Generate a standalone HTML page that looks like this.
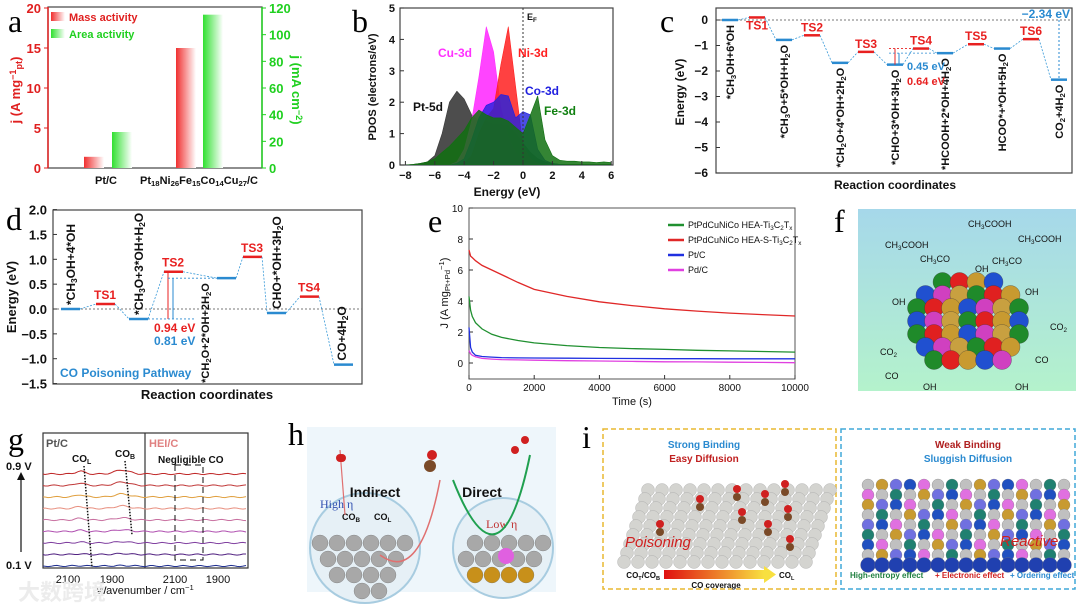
<!DOCTYPE html>
<html><head><meta charset="utf-8"><style>
html,body{margin:0;padding:0;background:#fff;width:1080px;height:607px;overflow:hidden}
svg{display:block;font-family:"Liberation Sans","Noto Sans CJK SC",sans-serif}
.L{font-family:"Liberation Serif",serif;font-size:32px}
</style></head><body>
<svg id="s" width="1080" height="607" viewBox="0 0 1080 607" xmlns="http://www.w3.org/2000/svg">
<defs>
<linearGradient id="gr" x1="0" x2="1"><stop offset="0" stop-color="#f03030"/><stop offset="1" stop-color="#fff"/></linearGradient>
<linearGradient id="gg" x1="0" x2="1"><stop offset="0" stop-color="#30e030"/><stop offset="1" stop-color="#fff"/></linearGradient>
<linearGradient id="gf" x1="0" y1="0" x2="0" y2="1"><stop offset="0" stop-color="#a6d8ea"/><stop offset="1" stop-color="#b4f2cc"/></linearGradient>
<linearGradient id="gco" x1="0" x2="1"><stop offset="0" stop-color="#e01010"/><stop offset="1" stop-color="#f8e040"/></linearGradient>
</defs>
<text class="L" x="8" y="32">a</text>
<text class="L" x="352" y="32">b</text>
<text class="L" x="660" y="32">c</text>
<text class="L" x="6" y="230">d</text>
<text class="L" x="428" y="232">e</text>
<text class="L" x="834" y="232">f</text>
<text class="L" x="8" y="450">g</text>
<text class="L" x="288" y="445">h</text>
<text class="L" x="582" y="448">i</text>
<g id="root"></g>
</svg>
<script>
const aCats=["Pt/C","HEA"];
const aMass=[1.4,15];
const aArea=[27,115];
const aLeftTicks=[0,5,10,15,20];
const aRightTicks=[0,20,40,60,80,100,120];
const bE=[-8,-7.5,-7,-6.5,-6,-5.5,-5,-4.5,-4,-3.5,-3,-2.5,-2,-1.5,-1,-0.5,0,0.5,1,1.5,2,2.5,3,3.5,4,4.5,5,5.5,6];
const bPt=[0,0.02,0.05,0.1,0.3,1.0,2.0,2.35,2.1,1.6,1.4,1.4,1.3,1.3,1.25,1.0,0.7,0.4,0.2,0.1,0.05,0.02,0.02,0.02,0.02,0.02,0.02,0.02,0.02];
const bCu=[0,0,0,0,0,0,0,0.1,0.5,1.4,2.8,4.4,3.6,1.8,0.9,0.4,0.15,0.05,0,0,0,0,0,0,0,0,0,0,0];
const bNi=[0,0,0,0,0,0,0,0,0.05,0.3,1.0,1.5,1.8,3.2,4.4,2.5,0.6,0.2,0.05,0,0,0,0,0,0,0,0,0,0];
const bCo=[0,0,0,0,0,0,0,0.05,0.2,0.8,1.5,1.9,2.0,2.25,2.2,1.5,1.7,1.6,0.5,0.15,0.05,0.02,0,0,0,0,0,0,0];
const bFe=[0,0.02,0.05,0.1,0.2,0.4,0.6,0.85,1.1,1.5,1.75,1.6,1.5,1.5,1.4,1.2,1.0,1.6,2.2,0.8,0.3,0.15,0.12,0.12,0.1,0.1,0.08,0.1,0.08];
const bXTicks=[-8,-6,-4,-2,0,2,4,6];
const bYTicks=[0,1,2,3,4,5];
const cLevels=[0,0.1,-0.78,-0.6,-1.68,-1.25,-1.75,-1.12,-1.3,-0.95,-1.12,-0.75,-2.34];
const cIsTS=[0,1,0,1,0,1,0,1,0,1,0,1,0];
const cNames=["*CH3OH+6*OH","TS1","*CH3O+5*OH+H2O","TS2","*CH2O+4*OH+2H2O","TS3","*CHO+3*OH+3H2O","TS4","*HCOOH+2*OH+4H2O","TS5","HCOO*+*OH+5H2O","TS6","CO2+4H2O"];
const cYTicks=[0,-1,-2,-3,-4,-5,-6];
const dLevels=[0,0.1,-0.2,0.75,0.62,1.05,-0.08,0.25,-1.12];
const dIsTS=[0,1,0,1,0,1,0,1,0];
const dNames=["*CH3OH+4*OH","TS1","*CH3O+3*OH+H2O","TS2","*CH2O+2*OH+2H2O","TS3","CHO+*OH+3H2O","TS4","CO+4H2O"];
const dYTicks=[2.0,1.5,1.0,0.5,0.0,-0.5,-1.0,-1.5];
const eT=[0,50,100,200,400,700,1000,1500,2000,3000,4000,5000,6000,7000,8000,9000,10000];
const eRed=[7.3,6.9,6.8,6.6,6.3,6.0,5.7,5.2,4.75,4.3,3.95,3.7,3.5,3.35,3.22,3.12,3.03];
const eGreen=[4.3,3.4,3.0,2.6,2.2,1.85,1.65,1.45,1.3,1.12,1.0,0.93,0.88,0.82,0.78,0.74,0.7];
const eBlue=[2.3,1.0,0.7,0.5,0.42,0.38,0.35,0.33,0.32,0.31,0.3,0.29,0.28,0.28,0.27,0.27,0.27];
const ePink=[0.8,0.6,0.5,0.4,0.3,0.25,0.22,0.2,0.18,0.15,0.13,0.1,0.08,0.07,0.05,0.04,0.02];
const eXTicks=[0,2000,4000,6000,8000,10000];
const eYTicks=[0,2,4,6,8,10];

const NS="http://www.w3.org/2000/svg";
const root=document.getElementById('root');
function mk(tag,attrs,parent){const e=document.createElementNS(NS,tag);for(const k in attrs)e.setAttribute(k,attrs[k]);(parent||root).appendChild(e);return e;}
function T(x,y,str,o){o=o||{};const e=mk('text',{x:x,y:y,'font-size':o.fs||11,fill:o.fill||'#111','text-anchor':o.anchor||'start','font-weight':o.bold===false?'normal':'bold'});if(o.rot)e.setAttribute('transform','rotate('+o.rot+' '+x+' '+y+')');if(o.family)e.setAttribute('font-family',o.family);
 const parts=str.split(/(\{[^}]*\}|\^[^^]*\^)/);
 parts.forEach(p=>{if(!p)return;const ts=document.createElementNS(NS,'tspan');if(p[0]=='{'){ts.textContent=p.slice(1,-1);ts.setAttribute('font-size',(o.fs||11)*0.7);ts.setAttribute('dy',2);e.appendChild(ts);const r=document.createElementNS(NS,'tspan');r.setAttribute('dy',-2);r.textContent='\u200b';e.appendChild(r);}else if(p[0]=='^'){ts.textContent=p.slice(1,-1);ts.setAttribute('font-size',(o.fs||11)*0.7);ts.setAttribute('dy',-4);e.appendChild(ts);const r=document.createElementNS(NS,'tspan');r.setAttribute('dy',4);r.textContent='\u200b';e.appendChild(r);}else{ts.textContent=p;e.appendChild(ts);}});
 return e;}
function subify(s){return s.replace(/([A-Za-z\)])(\d+)/g,'$1{$2}');}
function L(x1,y1,x2,y2,c,w,dash){const e=mk('line',{x1:x1,y1:y1,x2:x2,y2:y2,stroke:c||'#333','stroke-width':w||1});if(dash)e.setAttribute('stroke-dasharray',dash);return e;}

// panel a
const ya=v=>168-v*8, yaR=v=>168-v*160/120;
const aMassX=[84,176], aAreaX=[112,203];
let el=mk('rect',{x:48,y:7,width:214,height:161,fill:'none',stroke:'#444','stroke-width':1.2});


L(48,7,48,168,'#e02020',1.5);L(262,7,262,168,'#20d020',1.5);
aLeftTicks.forEach(v=>{L(44,ya(v),48,ya(v),'#e02020',1);const t=T(41,ya(v)+5,String(v),{fs:13,fill:'#e02020',anchor:'end'});});
aRightTicks.forEach(v=>{L(262,yaR(v),266,yaR(v),'#20d020',1);const t=T(269,yaR(v)+5,String(v),{fs:13,fill:'#20d020'});});
aCats.forEach((c,i)=>{
 const r=mk('rect',{x:aMassX[i],y:ya(aMass[i]),width:20,height:ya(0)-ya(aMass[i]),fill:'url(#gr)'});
 
 
 const g=mk('rect',{x:aAreaX[i],y:yaR(aArea[i]),width:20,height:yaR(0)-yaR(aArea[i]),fill:'url(#gg)'});
 
 
});
T(106,184,'Pt/C',{fs:11,anchor:'middle'});
T(199,184,'Pt{18}Ni{26}Fe{15}Co{14}Cu{27}/C',{fs:11,anchor:'middle'});
mk('rect',{x:51,y:12,width:14,height:9,fill:'url(#gr)'});mk('rect',{x:51,y:29,width:14,height:9,fill:'url(#gg)'});
el=T(69,21,'Mass activity',{fs:11,fill:'#e02020'});
el=T(69,38,'Area activity',{fs:11,fill:'#20d020'});
T(20,90,'j (A mg^−1^{pt})',{fs:13,fill:'#e02020',rot:-90,anchor:'middle'});
T(292,90,'j (mA cm^−2^)',{fs:13,fill:'#20d020',rot:90,anchor:'middle'});

// panel b
const xb=e=>523+e*14.7, yb=v=>165-v*31.4;
mk('rect',{x:400,y:8,width:213,height:157,fill:'none',stroke:'#444','stroke-width':1.2});
function area(vals,fill,op,name){let d='M'+xb(bE[0])+','+yb(0);bE.forEach((e,i)=>{d+=' L'+xb(e).toFixed(1)+','+yb(vals[i]).toFixed(1);});d+=' L'+xb(bE[bE.length-1])+','+yb(0)+'Z';const p=mk('path',{d:d,fill:fill,'fill-opacity':op,stroke:fill,'stroke-width':0.6,'stroke-linejoin':'round'});
 
 }
area(bPt,'#3a3a3a',0.9,'pdos-pt-5d');
area(bCu,'#ff30ff',0.9,'pdos-cu-3d');
area(bNi,'#ff2020',0.85,'pdos-ni-3d');
area(bCo,'#2020e0',0.8,'pdos-co-3d');
area(bFe,'#107010',0.85,'pdos-fe-3d');
L(xb(0),8,xb(0),165,'#333',1,'2,2');
bXTicks.forEach(v=>{L(xb(v),165,xb(v),161,'#333');T(xb(v),179,v<0?'−'+(-v):String(v),{fs:11,anchor:'middle'});});
bYTicks.forEach(v=>{L(400,yb(v),404,yb(v),'#333');T(395,yb(v)+4,String(v),{fs:11,anchor:'end'});});
T(507,196,'Energy (eV)',{fs:12,anchor:'middle'});
T(376,87,'PDOS (electrons/eV)',{fs:11,rot:-90,anchor:'middle'});
T(527,20,'E{F}',{fs:9});
T(438,57,'Cu-3d',{fs:12,fill:'#ff30ff'});T(518,57,'Ni-3d',{fs:12,fill:'#ff2020'});
T(525,95,'Co-3d',{fs:12,fill:'#2020e0'});T(544,115,'Fe-3d',{fs:12,fill:'#108010'});
T(413,111,'Pt-5d',{fs:12});

// panel c
const yc=v=>20-v*25.5;
const cX=[722,749,776,804,832,858,887,913,937,968,994,1023,1051];
mk('rect',{x:716,y:8,width:356,height:165,fill:'none',stroke:'#444','stroke-width':1.2});
L(716,yc(0),1072,yc(0),'#777',1,'2,2');
cYTicks.forEach(v=>{L(716,yc(v),720,yc(v),'#333');T(708,yc(v)+4,v<0?'−'+(-v):String(v),{fs:12,anchor:'end'});});
cLevels.forEach((v,i)=>{
 if(i>0)L(cX[i-1]+16,yc(cLevels[i-1]),cX[i],yc(v),'#3a9ad8',0.8,'2,1.5');
 const ln=mk('line',{x1:cX[i],y1:yc(v),x2:cX[i]+16,y2:yc(v),stroke:cIsTS[i]?'#e82020':'#2a8ad0','stroke-width':2.5});
 
 
 if(cIsTS[i])T(cX[i]+8,yc(v)-2+(i==1?14:-2),cNames[i],{fs:12,fill:'#e82020',anchor:'middle'});
 else T(cX[i]+12,yc(v)+5,subify(cNames[i]),{fs:11,rot:-90,anchor:'end'});
});
L(cX[6]+8,yc(-1.75),cX[6]+8,yc(-1.12),'#e82020',1);L(cX[6]+12,yc(-1.75),cX[6]+12,yc(-1.3),'#2a8ad0',1);
L(cX[6]+2,yc(-1.12),cX[7],yc(-1.12),'#e82020',0.8,'2,2');L(cX[6]+2,yc(-1.3),cX[8],yc(-1.3),'#2a8ad0',0.8,'2,2');
T(907,70,'0.45 eV',{fs:11,fill:'#2a8ad0'});T(907,85,'0.64 eV',{fs:11,fill:'#e82020'});
L(cX[12]+8,yc(0),cX[12]+8,yc(-2.34),'#2a8ad0',1,'2,2');
T(1070,18,'−2.34 eV',{fs:12,fill:'#2a8ad0',anchor:'end'});
T(684,92,'Energy (eV)',{fs:12,rot:-90,anchor:'middle'});
T(895,189,'Reaction coordinates',{fs:12,anchor:'middle'});

// panel d
const yd=v=>309-v*49.7;
const dX=[61,96,129,164,217,243,267,300,334];
mk('rect',{x:53,y:210,width:309,height:174,fill:'none',stroke:'#444','stroke-width':1.2});
L(53,yd(0),362,yd(0),'#777',1,'2,2');
dYTicks.forEach(v=>{L(53,yd(v),57,yd(v),'#333');T(47,yd(v)+5,v<0?'−'+(-v).toFixed(1):v.toFixed(1),{fs:13,anchor:'end'});});
dLevels.forEach((v,i)=>{
 if(i>0)L(dX[i-1]+19,yd(dLevels[i-1]),dX[i],yd(v),'#3a9ad8',0.8,'2,1.5');
 const ln=mk('line',{x1:dX[i],y1:yd(v),x2:dX[i]+19,y2:yd(v),stroke:dIsTS[i]?'#e82020':'#2a8ad0','stroke-width':2.5});
 
 
 if(dIsTS[i])T(dX[i]+9,yd(v)-5,dNames[i],{fs:12,fill:'#e82020',anchor:'middle'});
 else if(i==4)T(dX[i]-8,yd(v)+5,subify(dNames[i]),{fs:11,rot:-90,anchor:'end'});
 else T(dX[i]+(i==8?12:14),yd(v)-4,subify(dNames[i]),{fs:12,rot:-90,anchor:'start'});
});
L(168,yd(-0.2),168,yd(0.75),'#e82020',1);L(173,yd(-0.2),173,yd(0.62),'#2a8ad0',1);
L(148,yd(-0.2),195,yd(-0.2),'#2a8ad0',0.8,'2,2');L(168,yd(0.62),217,yd(0.62),'#2a8ad0',0.8,'2,2');
T(154,332,'0.94 eV',{fs:12,fill:'#e82020'});T(154,345,'0.81 eV',{fs:12,fill:'#2a8ad0'});
T(60,377,'CO Poisoning Pathway',{fs:12,fill:'#2a8ad0'});
T(16,297,'Energy (eV)',{fs:13,rot:-90,anchor:'middle'});
T(207,399,'Reaction coordinates',{fs:13,anchor:'middle'});

// panel e
const xe=t=>469+t*0.0326, ye=v=>363-v*15.5;
mk('rect',{x:469,y:208,width:326,height:171,fill:'none',stroke:'#555','stroke-width':1});
eXTicks.forEach(v=>{L(xe(v),379,xe(v),375,'#333');T(xe(v),391,String(v),{fs:10,anchor:'middle',bold:false});});
eYTicks.forEach(v=>{L(469,ye(v),473,ye(v),'#333');T(463,ye(v)+4,String(v),{fs:10,anchor:'end',bold:false});});
function eLine(vals,c,name){const p=mk('polyline',{points:eT.map((t,i)=>xe(t).toFixed(1)+','+ye(vals[i]).toFixed(1)).join(' '),fill:'none',stroke:c,'stroke-width':1.3});
 
 }
eLine(ePink,'#e040e0','line-pd-c');eLine(eBlue,'#2030e0','line-pt-c');eLine(eGreen,'#209030','line-hea-ti3c2tx');eLine(eRed,'#e02828','line-hea-s-ti3c2tx');
[['PtPdCuNiCo HEA-Ti{3}C{2}T{x}','#209030'],['PtPdCuNiCo HEA-S-Ti{3}C{2}T{x}','#e02828'],['Pt/C','#2030e0'],['Pd/C','#e040e0']].forEach((a,i)=>{
 const y=225+i*15;L(668,y,684,y,a[1],2.5);const t=T(688,y+3,a[0],{fs:9,bold:false});
 
 });
T(632,405,'Time (s)',{fs:11,anchor:'middle',bold:false});
T(448,293,'J (A mg{Pt+Pd}^−1^)',{fs:11,rot:-90,anchor:'middle',bold:false});

// panel f
mk('rect',{x:858,y:209,width:218,height:182,fill:'url(#gf)'});
const fpal=['#1f8a2a','#e02020','#c89a30','#2050d0','#d040c0','#c8a040'];
for(let r=0;r<7;r++){const n=[4,6,7,7,7,6,5][r];const y=282+r*13;for(let k=0;k<n;k++){const x=968-(n-1)*8.5+k*17;mk('circle',{cx:x,cy:y,r:9.5,fill:fpal[(r*3+k)%6],stroke:'#333','stroke-width':0.3});}}
[['CH{3}COOH',885,248],['CH{3}COOH',968,227],['CH{3}COOH',1018,242],['CH{3}CO',920,262],['CH{3}CO',992,264],['OH',975,272],['OH',892,305],['OH',1025,295],['CO{2}',880,355],['CO{2}',1050,330],['CO',885,379],['CO',1035,363],['OH',923,390],['OH',1015,390]].forEach(a=>T(a[1],a[2],a[0],{fs:9,bold:false}));

// panel g
mk('rect',{x:43,y:433,width:205,height:135,fill:'none',stroke:'#333','stroke-width':1.2});
L(145,433,145,568,'#333',1.2);
const gcol=['#c02828','#c03838','#e0a040','#e89080','#c870a0','#b050b0','#8040a0','#502080','#203090'];
for(let i=0;i<9;i++){const y=474+i*11.5;let d='M43,'+y;for(let x=45;x<=248;x+=3){let b=0;if(x<145){b=-3*Math.exp(-Math.pow((x-80)/6,2))*(1-i/9)-4*Math.exp(-Math.pow((x-122)/10,2))*(1-i/9);}d+=' L'+x+','+(y+b+Math.sin(x*1.7+i)*0.6).toFixed(1);}mk('path',{d:d,fill:'none',stroke:gcol[i],'stroke-width':1});}
L(84,466,92,568,'#111',1.5,'1.5,1.5');L(125,461,132,535,'#111',1.5,'1.5,1.5');
mk('rect',{x:175,y:465,width:28,height:95,fill:'none',stroke:'#111','stroke-width':1,'stroke-dasharray':'6,4'});
T(46,447,'Pt/C',{fs:11,fill:'#555'});T(149,447,'HEI/C',{fs:11,fill:'#e08080'});
T(72,462,'CO{L}',{fs:10});T(115,457,'CO{B}',{fs:10});T(158,463,'Negligible CO',{fs:10});
T(6,470,'0.9 V',{fs:11});T(6,569,'0.1 V',{fs:11});L(21,552,21,478,'#111',1.2);mk('path',{d:'M17,480 L21,472 L25,480Z',fill:'#111'});
[68,112,175,218].forEach((x,i)=>T(x,583,i%2?'1900':'2100',{fs:11,anchor:'middle',bold:false}));
T(145,594,'Wavenumber / cm^−1^',{fs:11,anchor:'middle',bold:false});
T(18,600,'大数跨境',{fs:22,fill:'#ececec',bold:true});

// panel h
mk('rect',{x:307,y:427,width:249,height:165,fill:'#eef6fb'});
[[365,548,55],[503,548,50]].forEach((c,j)=>{mk('circle',{cx:c[0],cy:c[1],r:c[2],fill:'#e6f0f6',stroke:'#a8cce0','stroke-width':2});for(let r=0;r<4;r++)for(let k=0;k<6;k++){const x=c[0]-45+k*17+(r%2)*8,y=c[1]-5+r*16;if(Math.hypot(x-c[0],y-c[1])<c[2]-8)mk('circle',{cx:x,cy:y,r:8,fill:j&&r==2?'#c8901a':(j&&r==3?'#2040b0':'#a8a8a8'),stroke:'#666','stroke-width':0.3});}});
mk('circle',{cx:506,cy:556,r:8,fill:'#e060e0'});
T(375,497,'Indirect',{fs:14,anchor:'middle'});T(482,497,'Direct',{fs:14,anchor:'middle'});
T(320,508,'High η',{fs:12,fill:'#3050b0',bold:false,family:'Liberation Serif'});T(486,528,'Low η',{fs:12,fill:'#c03030',bold:false,family:'Liberation Serif'});
T(342,520,'CO{B}',{fs:9});T(374,520,'CO{L}',{fs:9});
mk('path',{d:'M380,555 Q420,585 440,480',fill:'none',stroke:'#e07070','stroke-width':1.5});
mk('path',{d:'M453,480 Q500,600 530,455',fill:'none',stroke:'#20a050','stroke-width':2});
L(345,515,340,450,'#e07070',1.2);
[[340,458],[342,458],[525,440],[515,450]].forEach(p=>mk('circle',{cx:p[0],cy:p[1],r:4,fill:'#d02020'}));
mk('circle',{cx:432,cy:455,r:5,fill:'#d02020'});mk('circle',{cx:430,cy:466,r:6,fill:'#7a4a28'});

// panel i
mk('rect',{x:603,y:429,width:233,height:160,fill:'none',stroke:'#e8b830','stroke-width':1.5,'stroke-dasharray':'5,3'});
mk('rect',{x:841,y:429,width:234,height:160,fill:'none',stroke:'#40a8d8','stroke-width':1.5,'stroke-dasharray':'5,3'});
for(let r=0;r<9;r++)for(let k=0;k<14;k++){const x=630+k*14+(9-r)*2-r*1,y=490+r*9;mk('circle',{cx:x,cy:y,r:6.5,fill:'#d4d4d0',stroke:'#999','stroke-width':0.3});}
const ipal=['#c0c0c0','#c0c0c0','#2050c0','#c89a30','#208070','#e070e0','#7070e0'];
for(let r=0;r<9;r++)for(let k=0;k<15;k++){const x=868+k*14,y=485+r*10;mk('circle',{cx:x,cy:y,r:r==8?7.5:6,fill:r==8?'#2040b0':ipal[(k*3+r*5)%7],stroke:'#777','stroke-width':0.3});}
T(704,448,'Strong Binding',{fs:10,fill:'#2a8ad0',anchor:'middle'});T(704,462,'Easy Diffusion',{fs:10,fill:'#c02020',anchor:'middle'});
T(968,448,'Weak Binding',{fs:10,fill:'#b02020',anchor:'middle'});T(968,462,'Sluggish Diffusion',{fs:10,fill:'#2a8ad0',anchor:'middle'});
T(625,547,'Poisoning',{fs:15,fill:'#d02020',bold:false}).setAttribute('font-style','italic');
T(1000,546,'Reactive',{fs:15,fill:'#d02020',bold:false}).setAttribute('font-style','italic');
mk('rect',{x:664,y:570,width:100,height:9,fill:'url(#gco)'});mk('path',{d:'M764,566 L776,574.5 L764,583Z',fill:'#f8e040'});
T(660,578,'CO{T}/CO{B}',{fs:8,anchor:'end'});T(779,578,'CO{L}',{fs:8});T(716,588,'CO coverage',{fs:8,anchor:'middle'});
T(850,578,'High-entropy effect',{fs:8,fill:'#208040'});T(935,578,'+ Electronic effect',{fs:8,fill:'#d02020'});T(1010,578,'+ Ordering effect',{fs:8,fill:'#2a8ad0'});
[[660,530],[700,505],[737,495],[742,518],[765,500],[768,530],[785,490],[788,515],[790,545]].forEach(p=>{mk('circle',{cx:p[0],cy:p[1]-6,r:4,fill:'#d02020'});mk('circle',{cx:p[0],cy:p[1]+2,r:4,fill:'#7a4a28'});});
</script>
</body></html>
